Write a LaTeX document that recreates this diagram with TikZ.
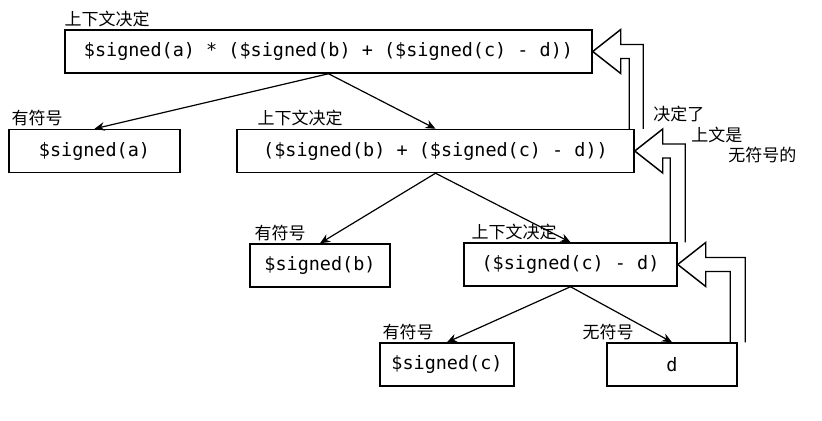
\documentclass[tikz,border=0pt]{standalone}
\usepackage{fontspec}
\setmonofont{DejaVu Sans Mono}
\newfontfamily\cjkfont{Noto Sans CJK SC}
\usetikzlibrary{positioning, calc, arrows.meta}

\begin{document}
\begin{tikzpicture}[
    x=0.75pt, y=-0.75pt,
    expr/.style={draw=black, line width=1.1pt, rectangle, minimum height=32.25pt, inner sep=0pt, font=\fontsize{13.85}{16}\selectfont\ttfamily},
    ctx/.style={font=\fontsize{12.75}{15}\selectfont\cjkfont, inner sep=0pt, anchor=base west},
    edge/.style={line width=0.9pt, -{Stealth[length=7.5pt, width=6.5pt]}},
    feedback/.style={draw=black, line width=1.1pt, line join=miter}
]
\useasboundingbox (0,0) rectangle (822,421);

% Ausdrucksbaum
\node[expr, minimum width=395.25pt] (whole) at (328.5,51.5) {\$signed(a) * (\$signed(b) + (\$signed(c) - d))};
\node[expr, minimum width=128.25pt] (siga) at (94.5,151) {\$signed(a)};
\node[expr, minimum width=297.75pt] (rest) at (435.5,151) {(\$signed(b) + (\$signed(c) - d))};
\node[expr, minimum width=105pt] (sigb) at (320,265.5) {\$signed(b)};
\node[expr, minimum width=159.75pt] (inner) at (570.5,264.5) {(\$signed(c) - d)};
\node[expr, minimum width=100.5pt] (sigc) at (447,364.5) {\$signed(c)};
\node[expr, minimum width=97.5pt] (dvar) at (672,364.5) {d};

% Beschriftungen ueber den Kaesten
\node[ctx] (whole-lbl) at ($(whole.north west)+(0,-4)$) {上下文决定};
\node[ctx] (siga-lbl) at ($(siga.north west)+(3,-4)$) {有符号};
\node[ctx] (rest-lbl) at ($(rest.north west)+(21,-4)$) {上下文决定};
\node[ctx] (sigb-lbl) at ($(sigb.north west)+(5,-4)$) {有符号};
\node[ctx] (inner-lbl) at ($(inner.north west)+(8,-4)$) {上下文决定};
\node[ctx] (sigc-lbl) at ($(sigc.north west)+(3,-4)$) {有符号};
\node[ctx] (dvar-lbl) at ($(dvar.north west)+(-24,-4)$) {无符号};

% Hinweis rechts
\node[ctx] (note1) at (653,120) {决定了};
\node[ctx] (note2) at (691,141) {上文是};
\node[ctx] (note3) at (728,161) {无符号的};

% Kanten
\draw[edge] (whole.south) -- (siga.north);
\draw[edge] (whole.south) -- (rest.north);
\draw[edge] (rest.south) -- (sigb.north);
\draw[edge] (rest.south) -- (inner.north);
\draw[edge] (inner.south) -- (sigc.north);
\draw[edge] (inner.south) -- (dvar.north);

% Hohlpfeile nach oben
\draw[feedback] ($(dvar.north east)+(7.5,0)$) |- ($(inner.east)+(28,-7)$) -- ++(0,-15) -- (inner.east) -- ++(28,22) -- ++(0,-15) -| ($(dvar.north east)+(-7.5,0)$);
\draw[feedback] ($(inner.north east)+(7.5,0)$) |- ($(rest.east)+(28,-7)$) -- ++(0,-15) -- (rest.east) -- ++(28,22) -- ++(0,-15) -| ($(inner.north east)+(-7.5,0)$);
\draw[feedback] ($(rest.north east)+(8.5,0)$) |- ($(whole.east)+(28,-7)$) -- ++(0,-15) -- (whole.east) -- ++(28,22) -- ++(0,-15) -| ($(rest.north east)+(-5.5,0)$);

\end{tikzpicture}
\end{document}
